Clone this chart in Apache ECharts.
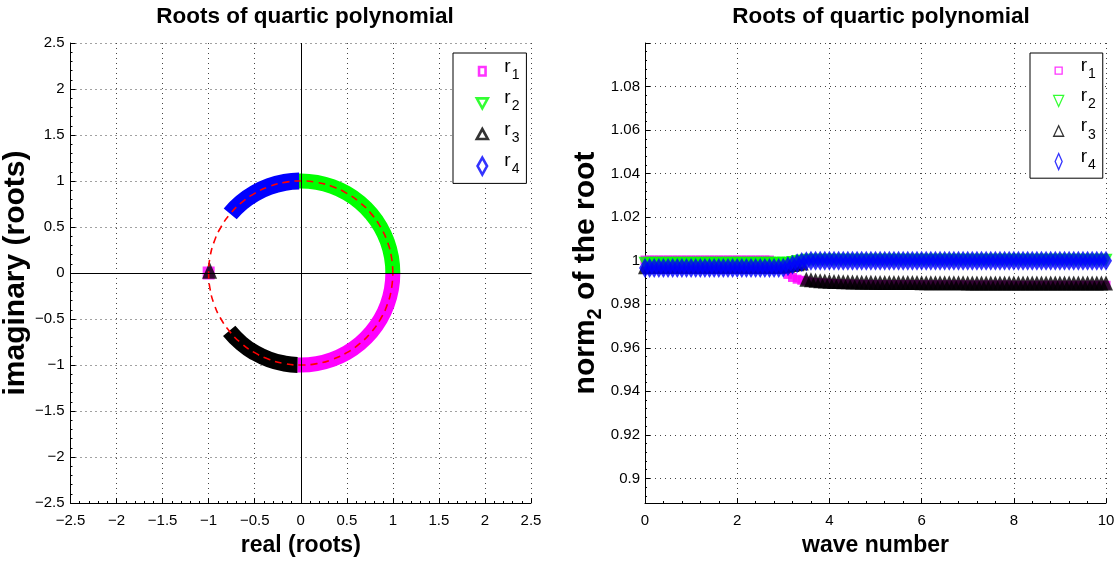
<!DOCTYPE html>
<html><head><meta charset="utf-8">
<script src="https://cdn.jsdelivr.net/npm/echarts@6/dist/echarts.min.js"></script>
<style>html,body{margin:0;padding:0;background:#fff}#c{width:1120px;height:567px}</style>
</head><body><div id="c"></div>
<script>
// ---------- data: left panel (complex plane) ----------
const unitCircle = [[1,0],[0.9848,0.1736],[0.9397,0.342],[0.866,0.5],[0.766,0.6428],[0.6428,0.766],[0.5,0.866],[0.342,0.9397],[0.1736,0.9848],[0,1],
  [-0.1736,0.9848],[-0.342,0.9397],[-0.5,0.866],[-0.6428,0.766],[-0.766,0.6428],[-0.866,0.5],[-0.9397,0.342],[-0.9848,0.1736],[-1,0],
  [-0.9848,-0.1736],[-0.9397,-0.342],[-0.866,-0.5],[-0.766,-0.6428],[-0.6428,-0.766],[-0.5,-0.866],[-0.342,-0.9397],[-0.1736,-0.9848],[0,-1],
  [0.1736,-0.9848],[0.342,-0.9397],[0.5,-0.866],[0.6428,-0.766],[0.766,-0.6428],[0.866,-0.5],[0.9397,-0.342],[0.9848,-0.1736],[1,0]];
const r1Arc = [[1,0],[0.9848,-0.1736],[0.9397,-0.342],[0.866,-0.5],[0.766,-0.6428],[0.6428,-0.766],[0.5,-0.866],[0.342,-0.9397],[0.1736,-0.9848],[0,-1],[-0.0349,-0.9994]];
const r2Arc = [[-0.0523,0.9986],[0,1],[0.1736,0.9848],[0.342,0.9397],[0.5,0.866],[0.6428,0.766],[0.766,0.6428],[0.866,0.5],[0.9397,0.342],[0.9848,0.1736],[1,0]];
const r3Arc = [[-0.7771,-0.6293],[-0.6428,-0.766],[-0.5,-0.866],[-0.342,-0.9397],[-0.1736,-0.9848],[-0.0349,-0.9994]];
const r4Arc = [[-0.766,0.6428],[-0.6428,0.766],[-0.5,0.866],[-0.342,0.9397],[-0.1736,0.9848],[-0.0175,0.9998]];
const r1Start = [[-1,0]];
const r3Start = [[-0.99,0.03]];
const r4Start = [[0.99,0]];

// ---------- data: right panel (norm vs wave number) ----------
const waveNumber = [0,0.1,0.2,0.3,0.4,0.5,0.6,0.7,0.8,0.9,1,1.1,1.2,1.3,1.4,1.5,1.6,1.7,1.8,1.9,2,2.1,2.2,2.3,2.4,2.5,2.6,2.7,2.8,2.9,
  3,3.1,3.2,3.3,3.4,3.5,3.6,3.7,3.8,3.9,4,4.1,4.2,4.3,4.4,4.5,4.6,4.7,4.8,4.9,5,5.1,5.2,5.3,5.4,5.5,5.6,5.7,5.8,5.9,
  6,6.1,6.2,6.3,6.4,6.5,6.6,6.7,6.8,6.9,7,7.1,7.2,7.3,7.4,7.5,7.6,7.7,7.8,7.9,8,8.1,8.2,8.3,8.4,8.5,8.6,8.7,8.8,8.9,
  9,9.1,9.2,9.3,9.4,9.5,9.6,9.7,9.8,9.9,10];
const r1Norm = [1.0003,1.0003,1.0003,1.0003,1.0003,1.0003,1.0003,1.0003,1.0003,1.0003,
  1.0003,1.0003,1.0003,1.0003,1.0003,1.0003,1.0003,1.0003,1.0003,1.0003,
  1.0003,1.0003,1.0003,1.0003,1.0003,1.0003,1.0003,1.0003,0.9992,0.9984,
  0.9962,0.9937,0.9923,0.9915,0.991,0.9907,0.9902,0.99,0.9898,0.9897,
  0.9896,0.9895,0.9894,0.9893,0.9893,0.9892,0.9892,0.9891,0.9891,0.9891,
  0.989,0.989,0.989,0.989,0.989,0.989,0.989,0.989,0.989,0.989,
  0.9889,0.9889,0.9889,0.9889,0.9889,0.9889,0.9889,0.9889,0.9889,0.9889,
  0.9888,0.9888,0.9888,0.9888,0.9888,0.9888,0.9888,0.9888,0.9888,0.9888,
  0.9887,0.9887,0.9887,0.9887,0.9887,0.9887,0.9887,0.9887,0.9887,0.9887,
  0.9887,0.9887,0.9887,0.9887,0.9887,0.9887,0.9887,0.9887,0.9887,0.9887,
  0.9887];
const r2Norm = [0.9988,0.9988,0.9988,0.9988,0.9988,0.9988,0.9988,0.9988,0.9988,0.9988,
  0.9988,0.9988,0.9988,0.9988,0.9988,0.9988,0.9988,0.9988,0.9988,0.9988,
  0.9988,0.9988,0.9988,0.9988,0.9988,0.9988,0.9988,0.9988,0.9988,0.9988,
  0.9988,0.9988,0.9992,0.9996,0.9999,1.0002,1.0002,1.0002,1.0002,1.0002,
  1.0002,1.0002,1.0002,1.0002,1.0002,1.0002,1.0002,1.0002,1.0002,1.0002,
  1.0002,1.0002,1.0002,1.0002,1.0002,1.0002,1.0002,1.0002,1.0002,1.0002,
  1.0002,1.0002,1.0002,1.0002,1.0002,1.0002,1.0002,1.0002,1.0002,1.0002,
  1.0002,1.0002,1.0002,1.0002,1.0002,1.0002,1.0002,1.0002,1.0002,1.0002,
  1.0002,1.0002,1.0002,1.0002,1.0002,1.0002,1.0002,1.0002,1.0002,1.0002,
  1.0002,1.0002,1.0002,1.0002,1.0002,1.0002,1.0002,1.0002,1.0002,1.0002,
  1.0002];
const r3Norm = [0.9972,0.9975,0.9975,0.9975,0.9975,0.9975,0.9975,0.9975,0.9975,0.9975,
  0.9975,0.9975,0.9975,0.9975,0.9975,0.9975,0.9975,0.9975,0.9975,0.9975,
  0.9975,0.9975,0.9975,0.9975,0.9975,0.9975,0.9975,0.9975,0.9975,0.9975,
  0.9976,0.9979,0.9982,0.9986,0.999,0.9915,0.9912,0.991,0.9908,0.9907,
  0.9906,0.9905,0.9904,0.9903,0.9903,0.9902,0.9902,0.9901,0.9901,0.9901,
  0.99,0.99,0.99,0.99,0.99,0.99,0.99,0.99,0.99,0.99,
  0.9899,0.9899,0.9899,0.9899,0.9899,0.9899,0.9899,0.9899,0.9899,0.9899,
  0.9898,0.9898,0.9898,0.9898,0.9898,0.9898,0.9898,0.9898,0.9898,0.9898,
  0.9897,0.9897,0.9897,0.9897,0.9897,0.9897,0.9897,0.9897,0.9897,0.9897,
  0.9897,0.9897,0.9897,0.9897,0.9897,0.9897,0.9897,0.9897,0.9897,0.9897,
  0.9897];
const r4Norm = [0.9966,0.9966,0.9966,0.9966,0.9966,0.9966,0.9966,0.9966,0.9966,0.9966,
  0.9966,0.9966,0.9966,0.9966,0.9966,0.9966,0.9966,0.9966,0.9966,0.9966,
  0.9966,0.9966,0.9966,0.9966,0.9966,0.9966,0.9966,0.9966,0.9966,0.9966,
  0.9968,0.9974,0.9981,0.9988,0.9994,0.9998,1,1,1,1,
  1,1,1,1,1,1,1,1,1,1,
  1,1,1,1,1,1,1,1,1,1,
  1,1,1,1,1,1,1,1,1,1,
  1,1,1,1,1,1,1,1,1,1,
  1,1,1,1,1,1,1,1,1,1,
  1,1,1,1,1,1,1,1,1,1,
  1];
const leftTicks = {min:-2.5, max:2.5, interval:0.5};

// ---------- styling ----------
const FONT = "'Liberation Sans',Arial,Helvetica,sans-serif";
const MAG = '#ff00ff', GRN = '#00ff00', BLK = '#000000', BLU = '#0000ff';
const fmtNum = v => (v < 0 ? '\u2212' + String(-v) : String(v));
const pair = (xs, ys) => xs.map((x, i) => [x, ys[i]]);
const tickFont = 15;

function axisBase(extra) {
  return Object.assign({
    type: 'value',
    axisLine: { onZero: false, lineStyle: { color: '#000', width: 1 } },
    axisTick: { inside: true, length: 5, lineStyle: { color: '#000' } },
    minorTick: { show: true, splitNumber: 5, length: 2, lineStyle: { color: '#000' } },
    splitLine: { show: true, lineStyle: { type: [1, 4], color: '#444', width: 1 } },
    nameLocation: 'middle'
  }, extra);
}
const xNameStyle = { fontFamily: FONT, fontWeight: 'bold', fontSize: 23, color: '#000' };
const yNameStyle = { fontFamily: FONT, fontWeight: 'bold', fontSize: 30, color: '#000' };

// legend icons drawn in a 16x26 box (M0 0 M16 26 fixes the box)
const B = 'path://M0 0M16 26';
const legendThick = [
  { name: 'r1', icon: B + 'M4.75 10.75h6.5v8.5h-6.5z', itemStyle: { color: '#fff', borderColor: MAG, borderWidth: 2.6 } },
  { name: 'r2', icon: B + 'M2.5 10.5L13.5 10.5L8 20.5Z', itemStyle: { color: '#fff', borderColor: GRN, borderWidth: 2.6 } },
  { name: 'r3', icon: B + 'M8 9.5L13.5 19.5L2.5 19.5Z', itemStyle: { color: '#fff', borderColor: BLK, borderWidth: 2.6 } },
  { name: 'r4', icon: B + 'M8 6.5L12.75 15L8 23.5L3.25 15Z', itemStyle: { color: '#fff', borderColor: BLU, borderWidth: 2.6 } }
];
const legendThin = [
  { name: 'r1', icon: B + 'M4.5 11.5h7v7h-7z', itemStyle: { color: '#fff', borderColor: MAG, borderWidth: 1.3 } },
  { name: 'r2', icon: B + 'M3 9.5L13 9.5L8 20.5Z', itemStyle: { color: '#fff', borderColor: GRN, borderWidth: 1.3 } },
  { name: 'r3', icon: B + 'M8 9.5L13 20L3 20Z', itemStyle: { color: '#fff', borderColor: BLK, borderWidth: 1.3 } },
  { name: 'r4', icon: B + 'M8 7L11.5 15L8 23L4.5 15Z', itemStyle: { color: '#fff', borderColor: BLU, borderWidth: 1.3 } }
];
const legendRich = {
  r: { fontFamily: FONT, fontSize: 19, verticalAlign: 'top', padding: [0, 0, 0, 9], color: '#000' },
  s: { fontFamily: FONT, fontSize: 14, verticalAlign: 'bottom', padding: [11, 0, 0, 1], color: '#000' }
};
function legendAt(left, data) {
  return {
    orient: 'vertical', left: left, top: 53, padding: [2, 7, 5, 20], itemGap: 3,
    itemWidth: 16, itemHeight: 26, borderColor: '#000', borderWidth: 1, backgroundColor: '#fff',
    selectedMode: false, data: data,
    formatter: n => '{r|r}{s|' + n.slice(1) + '}',
    textStyle: { rich: legendRich }
  };
}

const option = {
  animation: false,
  backgroundColor: '#fff',
  title: [
    { text: 'Roots of quartic polynomial', left: 300, top: 0, textAlign: 'center',
      textStyle: { fontFamily: FONT, fontWeight: 'bold', fontSize: 22.5, color: '#000' } },
    { text: 'Roots of quartic polynomial', left: 876, top: 0, textAlign: 'center',
      textStyle: { fontFamily: FONT, fontWeight: 'bold', fontSize: 22.5, color: '#000' } }
  ],
  grid: [
    { left: 69, top: 43, width: 462, height: 460, containLabel: false },
    { left: 645, top: 43, width: 461, height: 460, containLabel: false }
  ],
  xAxis: [
    axisBase({ gridIndex: 0, min: leftTicks.min, max: leftTicks.max, interval: leftTicks.interval,
      name: 'real (roots)', nameGap: 31, nameTextStyle: xNameStyle,
      axisLabel: { color: '#000', fontFamily: FONT, fontSize: tickFont, margin: 10, formatter: fmtNum } }),
    axisBase({ gridIndex: 1, min: 0, max: 10, interval: 2,
      name: 'wave number', nameGap: 31, nameTextStyle: xNameStyle,
      axisLabel: { color: '#000', fontFamily: FONT, fontSize: tickFont, margin: 10, formatter: fmtNum } })
  ],
  yAxis: [
    axisBase({ gridIndex: 0, min: leftTicks.min, max: leftTicks.max, interval: leftTicks.interval,
      name: 'imaginary (roots)', nameGap: 33, nameTextStyle: yNameStyle,
      axisLabel: { color: '#000', fontFamily: FONT, fontSize: tickFont, margin: 6, formatter: fmtNum } }),
    axisBase({ gridIndex: 1, min: 0.8887, max: 1.1, splitNumber: 10,
      name: '{a|norm}{b|2}{a| of the root}', nameGap: 40,
      nameTextStyle: { rich: {
        a: { fontFamily: FONT, fontWeight: 'bold', fontSize: 30, verticalAlign: 'top', color: '#000' },
        b: { fontFamily: FONT, fontWeight: 'bold', fontSize: 20, verticalAlign: 'bottom', padding: [14, 0, 0, 0], color: '#000' } } },
      axisLabel: { color: '#000', fontFamily: FONT, fontSize: tickFont, margin: 5, showMinLabel: false, showMaxLabel: false } })
  ],
  legend: [ legendAt(453, legendThick), legendAt(1030, legendThin) ],
  series: [
    // right panel (r3 drawn before r2/r4 so its hidden part stays under them)
    { name: 'r1', type: 'scatter', xAxisIndex: 1, yAxisIndex: 1, data: pair(waveNumber, r1Norm),
      symbol: 'rect', symbolSize: 9, itemStyle: { color: MAG }, clip: false, silent: true },
    { name: 'r3', type: 'scatter', xAxisIndex: 1, yAxisIndex: 1, data: pair(waveNumber, r3Norm),
      symbol: 'triangle', symbolSize: [14, 15], itemStyle: { color: BLK }, clip: false, silent: true },
    { name: 'r2', type: 'scatter', xAxisIndex: 1, yAxisIndex: 1, data: pair(waveNumber, r2Norm),
      symbol: 'triangle', symbolRotate: 180, symbolSize: 13, itemStyle: { color: GRN }, clip: false, silent: true },
    { name: 'r4', type: 'scatter', xAxisIndex: 1, yAxisIndex: 1, data: pair(waveNumber, r4Norm),
      symbol: 'diamond', symbolSize: [12, 20], itemStyle: { color: BLU }, clip: false, silent: true },
    // left panel
    { name: 'r1', type: 'scatter', xAxisIndex: 0, yAxisIndex: 0, data: r1Start,
      symbol: 'rect', symbolSize: [12, 13], itemStyle: { color: MAG }, silent: true },
    { name: 'r1', type: 'line', xAxisIndex: 0, yAxisIndex: 0, data: r1Arc, smooth: true, showSymbol: false, symbol: 'none',
      lineStyle: { color: MAG, width: 15, cap: 'butt' }, silent: true },
    { name: 'r2', type: 'line', xAxisIndex: 0, yAxisIndex: 0, data: r2Arc, smooth: true, showSymbol: false, symbol: 'none',
      lineStyle: { color: GRN, width: 15, cap: 'butt' }, silent: true },
    { name: 'r3', type: 'scatter', xAxisIndex: 0, yAxisIndex: 0, data: r3Start,
      symbol: 'triangle', symbolSize: [15, 17], itemStyle: { color: BLK }, silent: true },
    { name: 'r3', type: 'line', xAxisIndex: 0, yAxisIndex: 0, data: r3Arc, smooth: true, showSymbol: false, symbol: 'none',
      lineStyle: { color: BLK, width: 16, cap: 'butt' }, silent: true },
    { name: 'r4', type: 'scatter', xAxisIndex: 0, yAxisIndex: 0, data: r4Start,
      symbol: 'diamond', symbolSize: [13, 20], itemStyle: { color: BLU }, silent: true },
    { name: 'r4', type: 'line', xAxisIndex: 0, yAxisIndex: 0, data: r4Arc, smooth: true, showSymbol: false, symbol: 'none',
      lineStyle: { color: BLU, width: 17, cap: 'butt' }, silent: true },
    { name: 'unit circle', type: 'line', xAxisIndex: 0, yAxisIndex: 0, data: unitCircle, smooth: true, showSymbol: false, symbol: 'none',
      lineStyle: { color: '#ff0000', width: 1.6, type: [7, 5] }, silent: true,
      markLine: { silent: true, symbol: 'none', label: { show: false }, animation: false,
        lineStyle: { color: '#000', width: 1, type: 'solid' },
        data: [{ xAxis: 0 }, { yAxis: 0 }] } }
  ]
};
const chart = echarts.init(document.getElementById('c'), null, { renderer: 'canvas' });
chart.setOption(option);
</script></body></html>
